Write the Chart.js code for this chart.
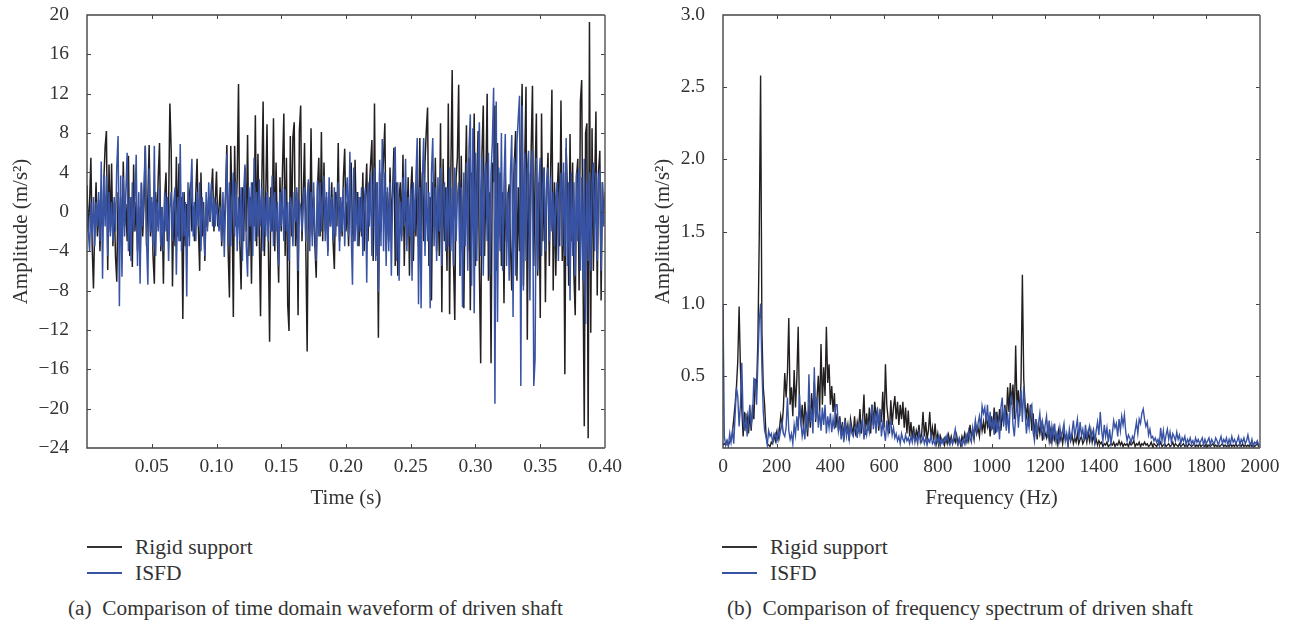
<!DOCTYPE html>
<html>
<head>
<meta charset="utf-8">
<script src="https://cdn.jsdelivr.net/npm/chart.js@4/dist/chart.umd.js"></script>
<style>
  html, body { margin: 0; padding: 0; background: #fff; }
  body { position: relative; width: 1290px; height: 624px; overflow: hidden; font-family: "Liberation Serif", serif; color: #333; }
  .plot { position: absolute; top: 0; height: 510px; }
  #plot-time { left: 0; width: 640px; }
  #plot-freq { left: 640px; width: 650px; }
  .key { position: absolute; font-size: 21.5px; line-height: 26px; height: 26px; white-space: nowrap; }
  .key i { position: absolute; left: 0; top: 12px; width: 35px; height: 1.5px; }
  .key span { position: absolute; left: 48px; }
  .caption { position: absolute; top: 595px; font-size: 21.3px; line-height: 26px; white-space: pre; }
</style>
</head>
<body>
<div class="plot" id="plot-time"><canvas id="chart-time"></canvas></div>
<div class="plot" id="plot-freq"><canvas id="chart-freq"></canvas></div>

<div class="key" style="left:87px;top:534px"><i style="background:#333"></i><span>Rigid support</span></div>
<div class="key" style="left:87px;top:560px"><i style="background:#3953a4"></i><span>ISFD</span></div>
<div class="key" style="left:722px;top:534px"><i style="background:#333"></i><span>Rigid support</span></div>
<div class="key" style="left:722px;top:560px"><i style="background:#3953a4"></i><span>ISFD</span></div>
<div class="caption" style="left:68px">(a)  Comparison of time domain waveform of driven shaft</div>
<div class="caption" style="left:727px">(b)  Comparison of frequency spectrum of driven shaft</div>

<script>
/* ── Data ─────────────────────────────────────────────────────── */
const TIME_STEP = 0.001;   // s between samples
const FREQ_STEP = 5;       // Hz between samples

const timeTicks = [0.05, 0.10, 0.15, 0.20, 0.25, 0.30, 0.35, 0.40];
const freqTicks = [0, 200, 400, 600, 800, 1000, 1200, 1400, 1600, 1800, 2000];

const timeRigid = [
  2.7, -2.0, 0.8, 5.5, -3.5, -7.8, -1.0, 3.0, -2.5, 1.2,
  -4.0, 0.5, -1.5, 3.2, 6.6, 8.2, -5.9, 4.8, -2.0, 4.9,
  -3.5, 1.0, -4.5, -7.1, 2.0, -2.5, 1.5, -4.0, 5.1, -1.5,
  0.8, -3.0, 5.7, -4.5, 1.5, -5.6, 4.8, -2.0, 1.0, -4.0,
  0.5, -5.5, 2.9, -2.5, 0.8, 6.7, -3.5, 1.5, 6.8, -2.5,
  1.0, -4.5, -7.3, 2.0, -1.5, 3.5, 7.0, -4.0, 0.5, -7.3,
  1.5, 4.0, -3.0, 0.5, 11.0, 6.3, -7.6, 1.0, -3.5, 5.6,
  -2.5, 4.9, -3.0, 1.5, -10.9, 2.0, -3.5, 0.8, -2.5, 1.5,
  3.0, -2.0, 0.5, -3.0, 1.8, 5.4, -1.5, -6.0, 4.0, -2.5,
  1.0, -5.0, 0.5, -1.5, 1.5, -1.0, 2.0, 4.4, -2.0, 1.0,
  4.1, -1.5, 0.5, 2.5, -3.5, 0.8, -2.0, 2.0, 6.8, -4.0,
  -8.7, 6.7, 1.0, -10.7, 6.7, -1.5, 3.5, 13.0, -3.0, -7.9,
  2.5, -3.0, 4.5, -2.0, 7.8, -4.5, 1.5, -7.3, 3.0, -1.5,
  9.8, -3.5, 5.9, -2.0, -10.6, 3.0, 11.2, -4.5, 1.5, 8.9,
  -3.0, -13.2, 2.5, -2.0, 9.5, -4.0, 5.0, -2.5, -7.2, 3.5,
  -2.0, 4.5, 10.0, -4.5, 5.5, -9.5, -12.1, 7.7, -2.5, 7.6,
  9.1, -3.5, 2.0, -10.5, 8.2, 10.8, -3.0, 1.5, 7.0, -4.0,
  -14.2, 3.0, -2.0, 8.5, -2.5, 1.5, -3.5, -6.7, 2.5, 5.5,
  -2.5, 8.1, -3.0, 5.0, -2.0, 1.5, -4.0, 2.0, -1.5, 3.0,
  -3.0, -5.8, 2.0, -1.5, 7.0, -3.0, 1.0, -2.5, 3.5, 6.4,
  -2.0, 1.0, -3.5, 2.5, 5.0, -2.0, -3.0, 5.3, -1.0, 2.0,
  -3.5, 1.5, -2.5, 4.0, -4.0, 1.5, 4.9, -3.0, 2.5, 4.9,
  7.3, -5.0, 11.0, -4.5, 3.0, -12.8, 4.0, -2.0, 2.5, 5.5,
  9.0, -4.0, 2.0, -3.0, 4.5, -1.5, 2.0, 6.5, -5.5, 3.0,
  -6.5, 1.5, 3.0, -2.5, 5.8, -5.5, 2.0, -1.5, 3.5, -6.5,
  2.0, 4.6, -5.0, 1.0, -2.5, 3.5, -3.5, 7.5, -2.0, 4.0,
  -3.0, 5.0, 8.2, 10.6, -5.5, 1.5, -9.0, 3.0, -1.5, 5.5,
  -4.0, 2.0, -4.5, 9.0, -10.2, 5.4, -3.0, 2.5, -6.0, 11.0,
  -10.4, 4.5, 14.4, -5.0, -11.0, 3.5, 5.5, 12.9, -6.5, 5.7,
  -3.0, -9.8, 2.0, 8.8, -4.0, 5.5, -10.0, 4.0, 2.0, 10.0,
  -5.5, 3.0, 8.2, -6.0, -15.4, 6.0, 10.8, -4.5, 3.0, 12.0,
  -7.0, 2.0, -15.4, 5.0, 3.0, 10.8, -6.0, 7.0, -2.5, 4.0,
  -5.5, 2.0, -9.3, 3.5, -3.0, 1.5, 2.8, -3.5, -8.0, 2.0,
  5.0, 8.2, -7.0, 2.5, -4.0, 5.5, 13.0, -7.5, 5.0, 12.7,
  -13.0, 4.0, -4.0, 6.5, 12.8, -5.5, 3.5, 10.0, -6.5, 3.0,
  -10.8, 10.0, -3.0, 4.5, -9.2, 2.5, 6.0, -5.5, 4.0, 12.4,
  -8.0, 3.0, -6.5, 1.5, 5.0, -3.5, 11.3, -5.0, 4.0, -16.5,
  6.5, 2.0, -7.5, 7.9, -3.0, 5.0, -6.5, -10.5, 3.5, 5.4,
  -8.0, 11.2, 13.4, -6.0, -21.8, 8.0, 9.0, -23.0, 19.3, -12.3,
  8.5, -6.0, 2.5, 10.2, -8.5, 4.0, 6.2, -9.0, 3.0, -1.0,
  2.0
];

const timeIsfd = [
  0.5, -2.0, -4.0, 1.0, -2.5, 1.5, -3.5, 1.0, -1.5, 2.0,
  -3.0, 5.1, -6.8, 3.7, -1.5, 3.7, -4.5, 2.0, -2.5, 1.0,
  -3.0, 1.5, -2.0, 4.6, 7.7, -9.6, 3.7, -6.6, 3.5, -2.5,
  2.0, 6.0, -4.0, 1.5, -5.0, 3.0, -2.0, 1.0, 5.8, -5.5,
  2.0, -7.3, 3.0, -1.5, 2.5, 6.7, -3.0, -7.4, 4.4, -2.0,
  1.5, -3.5, 6.7, -4.5, 1.0, -2.0, 2.4, -3.5, 0.5, -4.0,
  2.0, -2.0, 1.5, -5.0, 0.5, 2.0, -3.0, 1.0, 2.5, -6.4,
  1.5, -3.0, 6.9, -4.0, 2.0, -2.5, 1.0, -8.6, 3.0, -3.5,
  2.0, 5.4, -2.5, 1.0, -3.0, 2.0, -1.5, 3.0, -4.0, 1.5,
  -1.0, -4.5, 2.0, -2.0, 3.0, -1.0, 2.9, -1.5, 1.5, -1.5,
  1.0, -0.5, -2.0, 0.5, -3.0, 2.0, -4.6, 1.0, 5.9, -3.5,
  3.0, -3.5, 1.0, 4.0, -2.5, 3.0, -4.0, 1.5, -3.0, 2.5,
  -5.0, 2.0, 4.8, -3.5, -6.6, 2.5, -1.5, 3.0, -4.5, 5.5,
  -3.0, 2.0, -2.5, 3.3, -1.5, 2.5, -4.0, 1.5, -2.5, 2.0,
  -3.0, 1.5, -2.0, 3.7, -3.5, 2.0, -2.0, 1.0, -5.5, 2.0,
  -1.5, 2.5, -3.0, 2.3, -2.0, 1.0, -5.0, 1.5, 0.5, -3.5,
  2.0, -1.0, 2.5, -6.0, 1.0, 0.5, -2.0, 1.5, 2.5, -3.0,
  1.5, 3.3, -4.0, 2.0, -3.5, 3.0, -2.0, -5.0, 3.2, -2.5,
  3.0, -2.0, 1.0, 3.7, -3.0, 2.0, -4.5, 3.5, -1.5, 1.5,
  -3.0, 2.5, -2.5, 1.0, 3.0, -4.0, 1.5, -2.0, 2.5, -3.5,
  1.5, 3.5, -2.5, 6.1, -2.0, -7.4, 4.5, -3.0, 2.0, -3.5,
  1.5, -2.0, 2.5, -4.5, 1.0, 2.5, -7.2, 3.0, -1.5, 4.0,
  -4.5, 2.5, 4.5, -5.0, 3.0, -8.2, 5.3, -3.5, 7.4, -4.0,
  4.0, -5.5, 2.5, -4.0, 3.0, -6.5, 1.5, 3.5, 6.6, -5.0,
  3.0, -7.0, 1.0, -3.0, 3.5, -1.5, 5.4, -4.0, 1.5, -2.5,
  2.5, -7.0, 3.0, -2.0, 3.5, 7.5, -9.4, 2.5, -9.8, 3.5,
  7.5, -4.5, 3.0, -3.0, 2.0, -9.8, 4.0, 7.5, -3.5, 2.5,
  -5.0, 3.5, -2.0, 4.5, -5.5, 2.0, 3.0, -4.0, 2.5, -3.5,
  4.5, -4.0, 2.5, -5.5, 4.5, -3.0, 1.5, 3.0, -6.5, 2.5,
  -9.7, 4.0, -3.5, 5.0, -6.0, 6.5, 9.9, -7.5, 8.5, -10.3,
  6.0, -5.0, 5.0, 9.1, -4.5, 5.5, -6.5, 3.5, 5.0, -3.0,
  6.0, -6.5, 4.0, 7.0, 12.6, -19.5, 11.2, -11.2, 4.5, -4.0,
  8.0, -6.0, 3.0, 7.9, -5.5, 2.0, -7.0, 4.0, 7.8, -10.7,
  5.5, -6.5, 7.0, 9.5, 11.8, -17.7, 10.8, -8.0, 6.0, -5.0,
  4.0, 6.2, -9.0, 4.5, 6.2, -17.7, -15.0, 5.5, -6.0, 3.0,
  5.5, -4.5, 2.5, 4.5, -4.0, 3.0, 4.5, -3.0, 3.5, -2.0,
  2.0, -3.5, 1.5, 3.0, -5.0, 2.0, 4.0, -3.5, 5.0, -4.5,
  7.5, -5.5, 3.0, -9.0, 4.0, -4.5, 3.0, -6.5, 4.0, -3.0,
  4.5, -6.0, 3.5, -7.0, 5.4, -11.4, 3.0, -5.0, 4.0, -6.0,
  3.0, 5.0, -4.0, 4.0, -5.0, 3.5, 4.1, -6.0, 3.0, -1.5,
  -0.5
];

const freqRigid = [
  .02, .03, .02, .05, .02, .04, .06, .10, .20, .30,
  .42, .60, .98, .55, .27, .08, .25, .15, .22, .10,
  .24, .12, .30, .20, .48, .40, .75, 1.46, 2.58, .80,
  .42, .30, .10, .03, .02, .01, .04, .03, .09, .05,
  .11, .06, .13, .22, .15, .28, .52, .35, .52, .90,
  .30, .42, .22, .54, .28, .48, .84, .25, .18, .30,
  .12, .32, .20, .08, .30, .14, .38, .22, .46, .18,
  .34, .50, .25, .72, .30, .56, .36, .84, .45, .58,
  .30, .43, .25, .38, .14, .24, .12, .22, .10, .18,
  .06, .21, .10, .16, .05, .20, .14, .10, .22, .08,
  .18, .13, .27, .10, .20, .37, .09, .24, .12, .28,
  .10, .30, .16, .32, .22, .26, .12, .24, .18, .39,
  .14, .58, .30, .20, .10, .33, .16, .28, .36, .20,
  .32, .16, .30, .20, .32, .14, .28, .10, .26, .08,
  .18, .06, .15, .05, .12, .08, .16, .05, .10, .25,
  .08, .18, .06, .12, .25, .07, .14, .05, .17, .04,
  .10, .03, .08, .04, .06, .02, .07, .03, .09, .04,
  .08, .03, .07, .04, .09, .03, .06, .02, .08, .05,
  .10, .04, .09, .05, .16, .08, .12, .06, .17, .10,
  .14, .08, .20, .12, .18, .10, .24, .15, .20, .08,
  .22, .13, .28, .10, .25, .15, .27, .12, .24, .18,
  .30, .16, .42, .25, .45, .30, .44, .20, .71, .28,
  .40, .22, .46, 1.20, .48, .30, .22, .31, .15, .30,
  .12, .24, .08, .20, .06, .18, .10, .16, .05, .14,
  .10, .07, .15, .05, .12, .04, .13, .06, .10, .03,
  .12, .05, .09, .03, .11, .06, .08, .02, .10, .05,
  .09, .03, .07, .04, .10, .03, .06, .08, .03, .05,
  .09, .04, .11, .05, .12, .04, .09, .03, .06, .02,
  .05, .03, .04, .01, .03, .02, .04, .01, .02, .03,
  .02, .04, .01, .03, .02, .05, .02, .04, .01, .03,
  .02, .03, .01, .04, .02, .03, .05, .01, .03, .02,
  .04, .01, .03, .02, .04, .02, .03, .01, .02, .04,
  .01, .03, .02, .01, .03, .02, .04, .01, .02, .03,
  .01, .02, .03, .01, .02, .04, .01, .03, .02, .01,
  .03, .01, .02, .03, .01, .02, .01, .03, .02, .01,
  .02, .03, .01, .02, .01, .03, .01, .02, .02, .01,
  .03, .01, .02, .01, .02, .03, .01, .02, .01, .02,
  .01, .02, .03, .01, .02, .01, .02, .01, .03, .01,
  .02, .01, .03, .01, .02, .02, .01, .03, .01, .02,
  .01, .02, .01, .03, .01, .02, .01, .02, .03, .01,
  .02
];

const freqIsfd = [
  1.00, .08, .02, .05, .01, .10, .04, .12, .03, .22,
  .42, .36, .15, .30, .59, .20, .12, .24, .08, .20,
  .30, .16, .22, .48, .47, .30, .60, .88, 1.00, .55,
  .25, .12, .08, .02, .12, .08, .10, .04, .08, .10,
  .05, .12, .07, .13, .18, .10, .08, .14, .35, .12,
  .06, .10, .03, .16, .09, .22, .12, .37, .18, .08,
  .14, .06, .25, .12, .51, .18, .24, .10, .56, .20,
  .35, .14, .26, .12, .28, .16, .30, .10, .22, .14,
  .24, .11, .20, .13, .30, .30, .12, .18, .06, .14,
  .04, .19, .08, .14, .06, .16, .10, .08, .13, .15,
  .07, .18, .10, .16, .20, .06, .14, .09, .17, .11,
  .22, .30, .13, .24, .10, .28, .15, .27, .08, .17,
  .12, .05, .19, .10, .16, .18, .09, .14, .07, .10,
  .05, .08, .03, .10, .06, .04, .09, .05, .07, .03,
  .08, .04, .10, .05, .07, .03, .11, .06, .04, .08,
  .03, .07, .02, .06, .04, .09, .03, .05, .02, .07,
  .04, .08, .02, .06, .03, .07, .05, .09, .04, .02,
  .06, .03, .08, .13, .05, .02, .07, .04, .01, .06,
  .03, .09, .05, .12, .07, .04, .14, .08, .19, .12,
  .17, .22, .13, .29, .24, .28, .18, .30, .14, .25,
  .12, .20, .09, .25, .11, .18, .06, .28, .35, .15,
  .28, .12, .24, .10, .30, .37, .16, .08, .22, .33,
  .14, .27, .40, .18, .43, .25, .10, .20, .14, .28,
  .30, .11, .05, .20, .09, .17, .24, .12, .18, .06,
  .16, .22, .07, .19, .03, .15, .08, .17, .05, .10,
  .04, .14, .07, .12, .17, .05, .10, .03, .13, .06,
  .11, .19, .08, .14, .20, .06, .18, .09, .13, .05,
  .16, .07, .11, .15, .06, .10, .13, .04, .12, .18,
  .09, .25, .12, .05, .16, .08, .14, .04, .13, .03,
  .10, .19, .14, .17, .08, .20, .12, .22, .16, .23,
  .11, .05, .09, .07, .04, .08, .06, .12, .18, .10,
  .20, .17, .24, .27, .20, .15, .18, .09, .13, .07,
  .08, .05, .07, .04, .06, .02, .14, .05, .12, .03,
  .09, .13, .06, .11, .04, .10, .08, .05, .11, .06,
  .09, .03, .07, .05, .08, .02, .06, .04, .07, .03,
  .05, .02, .07, .04, .06, .03, .05, .07, .02, .06,
  .03, .05, .07, .02, .06, .04, .03, .07, .05, .02,
  .05, .08, .03, .06, .04, .07, .02, .06, .03, .08,
  .04, .06, .03, .05, .08, .02, .06, .04, .07, .03,
  .05, .09, .04, .02, .06, .01, .04, .03, .05, .02,
  .03
];

/* ── Shared styling ───────────────────────────────────────────── */
const INK = '#333333';
const BLACK_LINE = '#231f20';
const BLUE_LINE = '#3953a4';
const tickFont = { family: "'Liberation Serif', serif", size: 19.5, lineHeight: 1 };
const titleFont = { family: "'Liberation Serif', serif", size: 21, lineHeight: 1 };

// Frame and short inward ticks on all four sides, like the original figure
const framePlugin = {
  id: 'frame',
  afterDatasetsDraw(chart) {
    const { ctx, chartArea: a, scales } = chart;
    ctx.save();
    ctx.lineWidth = 1;
    ctx.strokeStyle = '#444';
    scales.x.ticks.forEach((t, i) => {
      const p = Math.round(scales.x.getPixelForTick(i)) + .5;
      if (t.value <= scales.x.min || t.value >= scales.x.max) return;
      ctx.beginPath(); ctx.moveTo(p, a.top); ctx.lineTo(p, a.top + 4); ctx.stroke();
      ctx.beginPath(); ctx.moveTo(p, a.bottom); ctx.lineTo(p, a.bottom - 4); ctx.stroke();
    });
    scales.y.ticks.forEach((t, i) => {
      const p = Math.round(scales.y.getPixelForTick(i)) + .5;
      if (t.value <= scales.y.min || t.value >= scales.y.max) return;
      ctx.beginPath(); ctx.moveTo(a.left, p); ctx.lineTo(a.left + 4, p); ctx.stroke();
      ctx.beginPath(); ctx.moveTo(a.right, p); ctx.lineTo(a.right - 4, p); ctx.stroke();
    });
    ctx.lineWidth = 1.4;
    ctx.strokeStyle = '#444';
    ctx.beginPath();
    ctx.moveTo(a.right, a.top); ctx.lineTo(a.left, a.top); ctx.lineTo(a.left, a.bottom); ctx.lineTo(a.right, a.bottom);
    ctx.stroke();
    ctx.lineWidth = 1.6;
    ctx.strokeStyle = '#666';
    ctx.beginPath(); ctx.moveTo(a.right, a.top); ctx.lineTo(a.right, a.bottom); ctx.stroke();
    ctx.restore();
  },
};

function toPoints(values, step) {
  return values.map((v, i) => ({ x: i * step, y: v }));
}

function makeChart(id, cfg) {
  return new Chart(document.getElementById(id), {
    type: 'line',
    data: {
      datasets: [
        { label: 'Rigid support', data: toPoints(cfg.rigid, cfg.step), borderColor: BLACK_LINE, order: 2 },
        { label: 'ISFD', data: toPoints(cfg.isfd, cfg.step), borderColor: BLUE_LINE, order: 1 },
      ],
    },
    options: {
      responsive: true,
      maintainAspectRatio: false,
      animation: false,
      layout: { padding: { top: 15, right: cfg.padRight, left: 0, bottom: 0 } },
      datasets: { line: { borderWidth: cfg.lineWidth, pointRadius: 0, tension: 0, borderJoinStyle: 'miter' } },
      plugins: { legend: { display: false }, tooltip: { enabled: false } },
      scales: {
        x: {
          type: 'linear',
          min: cfg.xMin, max: cfg.xMax,
          grid: { display: false },
          border: { display: false },
          afterFit: (s) => { s.height = 62; s.paddingLeft = 0; s.paddingRight = 0; },
          afterBuildTicks: (s) => { s.ticks = cfg.xTicks.map((v) => ({ value: v })); },
          ticks: {
            color: INK, font: tickFont, padding: 1, maxRotation: 0, autoSkip: false,
            callback: cfg.xLabel,
          },
          title: { display: true, text: cfg.xTitle, color: INK, font: titleFont, padding: { top: 0, bottom: 1 } },
        },
        y: {
          min: cfg.yMin, max: cfg.yMax,
          grid: { display: false },
          border: { display: false },
          afterFit: (s) => { s.width = cfg.axisWidth; s.paddingTop = 0; s.paddingBottom = 0; },
          ticks: {
            color: INK, font: tickFont, padding: 10, stepSize: cfg.yStep, autoSkip: false,
            callback: cfg.yLabel,
          },
          title: { display: true, text: 'Amplitude (m/s²)', color: INK, font: titleFont, padding: { top: cfg.titleTop, bottom: 0 } },
        },
      },
    },
    plugins: [framePlugin],
  });
}

/* ── Charts ───────────────────────────────────────────────────── */
makeChart('chart-time', {
  rigid: timeRigid, isfd: timeIsfd, step: TIME_STEP, lineWidth: 1.5,
  xMin: 0, xMax: 0.4, xTicks: timeTicks,
  xLabel: (v) => Number(v).toFixed(2),
  xTitle: 'Time (s)',
  yMin: -24, yMax: 20, yStep: 4,
  yLabel: (v) => (v < 0 ? '−' + Math.abs(v) : String(v)),
  axisWidth: 87, padRight: 35, titleTop: 11,
});

makeChart('chart-freq', {
  rigid: freqRigid, isfd: freqIsfd, step: FREQ_STEP, lineWidth: 1.4,
  xMin: 0, xMax: 2000, xTicks: freqTicks,
  xLabel: (v) => String(v),
  xTitle: 'Frequency (Hz)',
  yMin: 0, yMax: 3, yStep: 0.5,
  yLabel: (v) => (v === 0 ? '' : Number(v).toFixed(1)),
  axisWidth: 83, padRight: 30, titleTop: 13,
});
</script>
</body>
</html>
